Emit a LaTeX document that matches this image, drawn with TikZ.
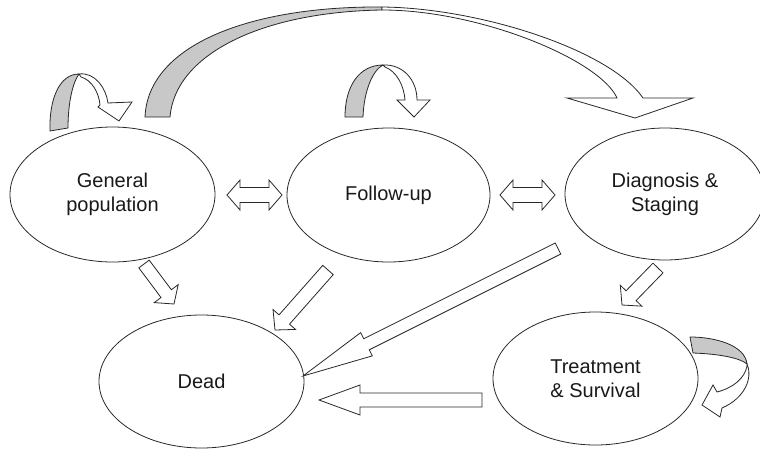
\documentclass[tikz,border=0pt]{standalone}
\usepackage{fontspec}
\setmainfont{Liberation Sans}
\usetikzlibrary{calc,shapes.geometric}
\definecolor{band}{RGB}{200,200,200}
\definecolor{ink}{RGB}{40,40,40}
\tikzset{
  arr/.style={draw=ink, line width=0.8pt, fill=white, line join=miter},
  bandarr/.style={draw=ink, line width=0.8pt, fill=band, line join=round},
  state/.style={ellipse, draw=ink, line width=0.8pt, inner sep=0pt, align=center,
    font=\fontsize{20}{24}\selectfont, text=black!90},
}
\newcommand{\blockarrow}[6]{%
  \coordinate (#6) at ($(#2)!#5!(#1)$);
  \draw[arr] ($(#1)!#3!90:(#2)$) -- ($(#6)!#3!90:(#2)$) -- ($(#6)!#4!90:(#2)$) -- (#2)
    -- ($(#6)!#4!-90:(#2)$) -- ($(#6)!#3!-90:(#2)$) -- ($(#1)!#3!-90:(#2)$) -- cycle;}
\newcommand{\dblarrow}[5]{%
  \draw[arr] (#1) -- ++(#5,-#4) -- ++(0,#4-#3) -- ($(#2)+(-#5,-#3)$) -- ++(0,#3-#4) -- (#2)
    -- ++(-#5,#4) -- ++(0,#3-#4) -- ($(#1)+(#5,#3)$) -- ++(0,#4-#3) -- cycle;}
\begin{document}
\begin{tikzpicture}[x=1pt,y=-1pt]
\useasboundingbox (0,0) rectangle (760,452);
% states
\node[state, minimum width=205pt, minimum height=135pt] (gen) at (112.5,194.5) {General\\population};
\node[state, minimum width=203pt, minimum height=134pt] (fol) at (388.5,195) {Follow-up};
\node[state, minimum width=200pt, minimum height=132pt] (dia) at (665,194) {Diagnosis \&\\Staging};
\node[state, minimum width=205pt, minimum height=133pt] (dead) at (201.5,381.5) {Dead};
\node[state, minimum width=205pt, minimum height=133pt] (treat) at (595.5,378.5) {Treatment\\\& Survival};

% straight block arrows
\coordinate (gd1) at (144,264); \coordinate (gd2) at (174,304);
\blockarrow{gd1}{gd2}{6.5pt}{15pt}{13pt}{gdh}
\coordinate (fd1) at (328,270); \coordinate (fd2) at (275,330);
\blockarrow{fd1}{fd2}{7pt}{15pt}{14pt}{fdh}
\coordinate (sd1) at (558,248.5); \coordinate (sd2) at (303,376);
\blockarrow{sd1}{sd2}{6.2pt}{13pt}{71pt}{sdh}
\coordinate (td1) at (482,400); \coordinate (td2) at (319,400);
\blockarrow{td1}{td2}{7pt}{15pt}{41pt}{tdh}
\coordinate (st1) at (658,268); \coordinate (st2) at (622,305);
\blockarrow{st1}{st2}{7pt}{15pt}{13pt}{sth}

% double arrows
\coordinate (gf1) at (227,195); \coordinate (gf2) at (282,195);
\dblarrow{gf1}{gf2}{7.5}{15}{13}
\coordinate (fs1) at (500,195); \coordinate (fs2) at (555,195);
\dblarrow{fs1}{fs2}{7.5}{15}{13}

% self loop on General population
\draw[bandarr] (50,131) .. controls (49,98) and (60,74) .. (79,74)
   .. controls (73,82) and (68,102) .. (68,128) -- cycle;
\draw[arr] (79,74) .. controls (95,72) and (106,88) .. (108,103) -- (132,102) -- (119,121)
   -- (98,107) -- (100,105) .. controls (99,93) and (92,80) .. (81,77) -- cycle;

% self loop on Follow-up
\draw[bandarr] (345,117) .. controls (345,85) and (360,65) .. (383,65)
   .. controls (373,70) and (364,90) .. (363,117) -- cycle;
\draw[arr] (383,65) .. controls (403,64) and (417,80) .. (417,100) -- (430,100) -- (414,117)
   -- (397,100) -- (405,100) .. controls (404,85) and (396,71) .. (385,67) -- cycle;

% big arc General population -> Diagnosis
\draw[bandarr] (145,117) .. controls (148,45) and (250,6) .. (382,7)
   -- (382,10) .. controls (260,12) and (175,55) .. (170,117) -- cycle;
\draw[arr] (382,7) .. controls (480,8) and (610,50) .. (643,98) -- (693,98) -- (635,118)
   -- (567,98) -- (617,98) .. controls (600,60) and (480,10) .. (382,10) -- cycle;

% self loop on Treatment
\draw[bandarr] (690,337) .. controls (715,337) and (745,345) .. (747,364)
   .. controls (740,358) and (720,354) .. (693,353) -- cycle;
\draw[arr] (747,364) .. controls (753,378) and (745,398) .. (722,408) -- (720,417) -- (702,405)
   -- (713,385) -- (717,392) .. controls (733,388) and (745,378) .. (747,366) -- cycle;
\end{tikzpicture}
\end{document}
